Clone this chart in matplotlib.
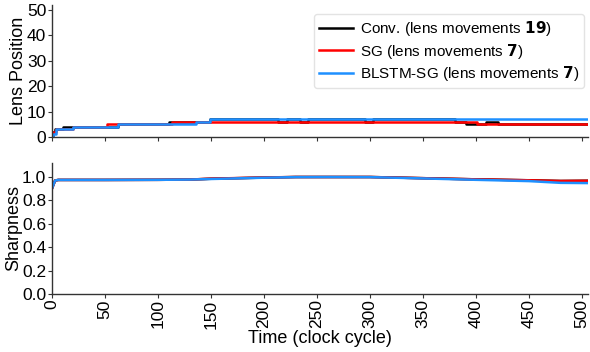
import matplotlib
matplotlib.use("Agg")
import matplotlib.pyplot as plt

plt.rcParams['font.family'] = ['Liberation Sans', 'DejaVu Sans']
plt.rcParams['mathtext.fontset'] = 'dejavusans'

T_END = 506

# Lens position step data: (change times, values)
conv_t = [0, 1, 3, 10, 62, 110, 149, 213, 222, 234, 242, 295, 303, 380, 391, 401, 410, 421, T_END]
conv_v = [0, 2, 3, 4, 5, 6, 7, 6, 7, 6, 7, 6, 7, 6, 5, 5, 6, 5, 5]
sg_t = [0, 1, 4, 20, 52, 113, 401, T_END]
sg_v = [0, 2, 3, 4, 5, 6, 5, 5]
blstm_t = [0, 1, 4, 20, 62, 136, 149, T_END]
blstm_v = [0, 1, 3, 4, 5, 6, 7, 7]

# Sharpness samples
sharp_t = [0, 3, 6, 50, 100, 130, 150, 200, 230, 260, 300, 350, 400, 450, 480, 506]
conv_s = [0.90, 0.97, 0.975, 0.975, 0.976, 0.978, 0.985, 0.995, 1.0, 1.0, 1.0, 0.99, 0.98, 0.972, 0.966, 0.968]
sg_s = [0.90, 0.97, 0.975, 0.975, 0.976, 0.978, 0.986, 0.996, 1.0, 1.0, 1.0, 0.99, 0.98, 0.972, 0.966, 0.968]
blstm_s = [0.90, 0.97, 0.975, 0.975, 0.976, 0.978, 0.983, 0.994, 0.999, 1.0, 0.999, 0.988, 0.976, 0.965, 0.950, 0.948]

labels = [r'Conv. (lens movements $\mathbf{19}$)',
          r'SG (lens movements $\mathbf{7}$)',
          r'BLSTM-SG (lens movements $\mathbf{7}$)']
colors = ['black', '#ff0000', '#1e90ff']

fig = plt.figure(figsize=(5.9, 3.52), dpi=100)
ax1 = fig.add_axes([0.088, 0.611, 0.909, 0.375])
ax2 = fig.add_axes([0.088, 0.165, 0.909, 0.372])

lw = 1.8
for t, v, c, l in zip([conv_t, sg_t, blstm_t], [conv_v, sg_v, blstm_v], colors, labels):
    ax1.plot(t, v, drawstyle='steps-post', color=c, lw=lw, label=l)
for s, c in zip([conv_s, sg_s, blstm_s], colors):
    ax2.plot(sharp_t, s, color=c, lw=lw)

for ax in (ax1, ax2):
    ax.set_xlim(0, T_END)
    ax.spines['top'].set_visible(False)
    ax.spines['right'].set_visible(False)
    ax.spines['left'].set_color('#333333')
    ax.spines['bottom'].set_color('#333333')
    ax.spines['left'].set_linewidth(1.0)
    ax.spines['bottom'].set_linewidth(1.0)
    ax.tick_params(labelsize=12.5, length=3, width=0.8, colors='#333333', labelcolor='black', pad=1)
    ax.set_xticks(range(0, 501, 50))

ax1.set_ylim(0, 52)
ax1.set_yticks([0, 10, 20, 30, 40, 50])
ax1.tick_params(axis='x', labelbottom=False)
ax1.set_ylabel('Lens Position', fontsize=13, labelpad=0)

ax2.set_ylim(0, 1.12)
ax2.set_yticks([0.0, 0.2, 0.4, 0.6, 0.8, 1.0])
ax2.set_yticklabels(['0.0', '0.2', '0.4', '0.6', '0.8', '1.0'])
ax2.tick_params(axis='x', labelrotation=90)
ax2.set_ylabel('Sharpness', fontsize=13, labelpad=0)
ax2.set_xlabel('Time (clock cycle)', fontsize=13, labelpad=1)

leg = ax1.legend(loc='upper right', fontsize=11, frameon=True, handlelength=2.2,
                 borderpad=0.35, labelspacing=0.22, handletextpad=0.45,
                 borderaxespad=0.0, bbox_to_anchor=(0.993, 0.932))
leg.get_frame().set_edgecolor('#dddddd')

fig.savefig('out.png', dpi=100)
